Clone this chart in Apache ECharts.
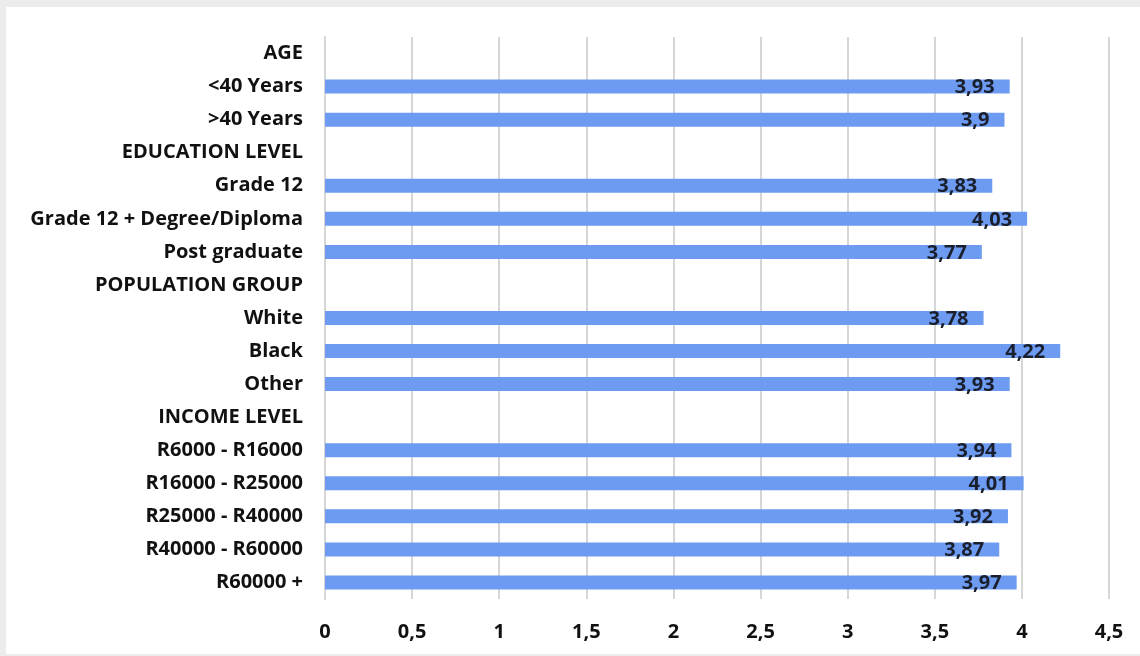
<!DOCTYPE html>
<html>
<head>
<meta charset="utf-8">
<script src="https://cdn.jsdelivr.net/npm/echarts@6/dist/echarts.min.js"></script>
<style>
  html, body { margin: 0; padding: 0; background: #ececec; }
  #card { position: absolute; left: 6px; top: 7px; width: 1134px; height: 647px; background: #ffffff; }
  #chart { position: absolute; left: -6px; top: -7px; width: 1140px; height: 656px; }
</style>
</head>
<body>
<div id="card"><div id="chart"></div></div>
<script>
// Group headings have no value; the rows beneath them carry the mean scores.
const categories = [
  'AGE', '<40 Years', '>40 Years',
  'EDUCATION LEVEL', 'Grade 12', 'Grade 12 + Degree/Diploma', 'Post graduate',
  'POPULATION GROUP', 'White', 'Black', 'Other',
  'INCOME LEVEL', 'R6000 - R16000', 'R16000 - R25000', 'R25000 - R40000', 'R40000 - R60000', 'R60000 +'
];
const scores = [
  null, 3.93, 3.9,
  null, 3.83, 4.03, 3.77,
  null, 3.78, 4.22, 3.93,
  null, 3.94, 4.01, 3.92, 3.87, 3.97
];
const axisMin = 0;
const axisMax = 4.5;
const axisStep = 0.5;

const fmt = v => String(v).replace('.', ',');
const fontFamily = '"Open Sans", Lato, sans-serif';

const chart = echarts.init(document.getElementById('chart'), null, { renderer: 'canvas' });
chart.setOption({
  animation: false,
  backgroundColor: 'transparent',
  grid: { left: 325, right: 31, top: 37, bottom: 57, containLabel: false },
  xAxis: {
    type: 'value',
    min: axisMin,
    max: axisMax,
    interval: axisStep,
    axisLine: { show: false },
    axisTick: { show: false },
    splitLine: { show: true, lineStyle: { color: '#d6d6d6', width: 2 } },
    axisLabel: {
      formatter: fmt,
      color: '#111111',
      fontSize: 20,
      fontWeight: 'bold',
      fontFamily: fontFamily,
      margin: 23
    }
  },
  yAxis: {
    type: 'category',
    data: categories,
    inverse: true,
    axisLine: { show: true, lineStyle: { color: '#d6d6d6', width: 2 } },
    axisTick: { show: false },
    axisLabel: {
      color: '#111111',
      fontSize: 20,
      fontWeight: 'bold',
      fontFamily: fontFamily,
      margin: 22
    }
  },
  series: [{
    type: 'bar',
    data: scores,
    barWidth: 14,
    itemStyle: { color: '#6d9bf1' },
    label: {
      show: true,
      position: 'insideRight',
      distance: 15,
      offset: [0, 1],
      formatter: p => (p.value == null ? '' : fmt(p.value)),
      color: '#1a1f2e',
      fontSize: 20,
      fontWeight: 'bold',
      fontFamily: fontFamily
    }
  }]
});
</script>
</body>
</html>
